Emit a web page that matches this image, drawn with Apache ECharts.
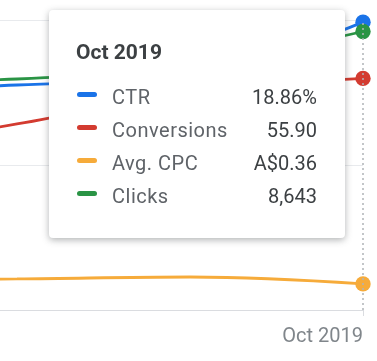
<!DOCTYPE html>
<html>
<head>
<meta charset="utf-8">
<script src="https://cdn.jsdelivr.net/npm/echarts@6/dist/echarts.min.js"></script>
<style>
html,body{margin:0;padding:0;background:#fff;}
#chart{width:377px;height:361px;}
</style>
</head>
<body>
<div id="chart"></div>
<script>
// Data (monthly, last point is Oct 2019)
var categories = ['Jul 2019', 'Aug 2019', 'Sep 2019', 'Oct 2019'];
var ctr = [14.41, 14.74, 15.40, 18.86];          // %
var conversions = [38.6, 44.9, 52.6, 55.90];
var avgCpc = [0.414, 0.428, 0.455, 0.36];        // A$
var clicks = [7076, 7169, 7603, 8643];
var seriesNames = ['CTR', 'Conversions', 'Avg. CPC', 'Clicks'];
var colors = ['#1a73e8', '#d33b30', '#f6ab3a', '#2a9445'];

var last = categories.length - 1;
var chart = echarts.init(document.getElementById('chart'), null, {renderer: 'canvas'});

function fmt(name, v) {
  if (name === 'CTR') return v.toFixed(2) + '%';
  if (name === 'Conversions') return v.toFixed(2);
  if (name === 'Avg. CPC') return 'A$' + v.toFixed(2);
  return Math.round(v).toLocaleString('en-US');
}

function mkSeries(i, data, yIdx) {
  return {
    name: seriesNames[i],
    type: 'line',
    yAxisIndex: yIdx,
    data: data,
    smooth: 0.4,
    symbol: 'circle',
    showSymbol: true,
    symbolSize: function (v, p) { return p.dataIndex === last ? 14 : 0; },
    lineStyle: {color: colors[i], width: 2.8},
    itemStyle: {color: colors[i]},
    emphasis: {disabled: true},
    animation: false
  };
}

var hiddenAxis = function (min, max, extra) {
  return Object.assign({
    type: 'value', min: min, max: max, show: true,
    axisLine: {show: false}, axisTick: {show: false}, axisLabel: {show: false},
    splitLine: {show: false}
  }, extra || {});
};

chart.setOption({
  animation: false,
  grid: {left: -156, right: 14, top: 20, bottom: 51, containLabel: false, outerBoundsMode: 'none'},
  xAxis: {
    type: 'category',
    data: categories,
    boundaryGap: false,
    axisLine: {show: true, lineStyle: {color: '#dadce0', width: 1}},
    axisTick: {show: true, length: 6, interval: function (i) { return i === last; }, lineStyle: {color: '#dadce0'}},
    axisLabel: {
      interval: function (i) { return i === last; },
      align: 'right',
      margin: 17,
      fontFamily: 'Roboto',
      fontSize: 20,
      lineHeight: 20,
      color: '#80868b'
    },
    splitLine: {show: false}
  },
  yAxis: [
    hiddenAxis(0, 9000, {interval: 4500, splitLine: {show: true, lineStyle: {color: '#e8eaed', width: 1}}}),
    hiddenAxis(0, 19),
    hiddenAxis(0, 70),
    hiddenAxis(0, 4)
  ],
  tooltip: {
    trigger: 'axis',
    triggerOn: 'none',
    alwaysShowContent: true,
    transitionDuration: 0,
    padding: 0,
    borderWidth: 0,
    backgroundColor: '#ffffff',
    position: [49, 10],
    extraCssText: 'box-shadow:0 2px 7px rgba(60,64,67,0.4);border-radius:4px;',
    axisPointer: {
      type: 'line',
      animation: false,
      lineStyle: {color: '#b0b4b8', width: 1.5, type: [2, 3]}
    },
    formatter: function (params) {
      var h = '<div style="position:relative;width:296px;height:228px;font-family:Roboto,sans-serif;">';
      h += '<div style="position:absolute;left:27px;top:30px;height:24px;line-height:24px;font-size:21px;font-weight:bold;color:#3c4043;">' + params[0].axisValue + '</div>';
      params.forEach(function (p, k) {
        var top = 71 + k * 33;
        h += '<div style="position:absolute;left:28px;top:' + (top + 10.5) + 'px;width:20px;height:5px;border-radius:3px;background:' + colors[p.seriesIndex] + ';"></div>';
        h += '<div style="position:absolute;left:63px;top:' + top + 'px;height:33px;line-height:33px;font-size:20px;letter-spacing:0.5px;color:#5f6368;">' + p.seriesName + '</div>';
        h += '<div style="position:absolute;right:28px;top:' + top + 'px;height:33px;line-height:33px;font-size:20px;color:#3c4043;">' + fmt(p.seriesName, p.value) + '</div>';
      });
      h += '</div>';
      return h;
    }
  },
  series: [
    mkSeries(0, ctr, 1),
    mkSeries(1, conversions, 2),
    mkSeries(2, avgCpc, 3),
    mkSeries(3, clicks, 0)
  ]
});

chart.dispatchAction({type: 'showTip', seriesIndex: 0, dataIndex: last});
</script>
</body>
</html>
